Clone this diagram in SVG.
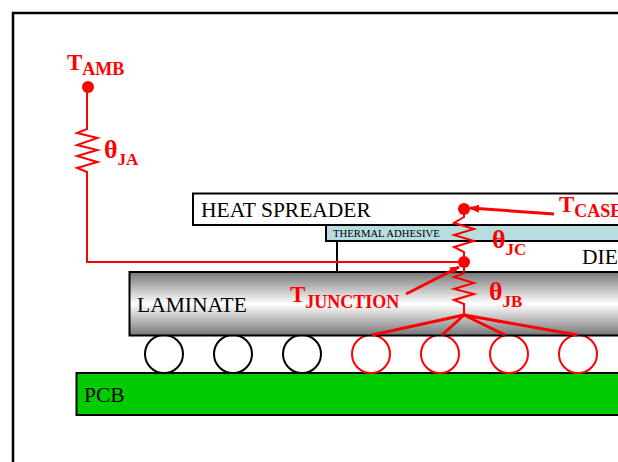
<svg xmlns="http://www.w3.org/2000/svg" width="618" height="462" viewBox="0 0 618 462">
<style>
.box{stroke:#000;stroke-width:2}
.lbl{font-family:"Liberation Serif",serif;fill:#000;font-size:21.5px}
.red{font-family:"Liberation Serif",serif;fill:#f00;font-weight:bold}
.wire{fill:none;stroke:#f00;stroke-width:2}
.thick{fill:none;stroke:#f00;stroke-width:3}
.ball{fill:#fff;stroke:#000;stroke-width:2}
.rball{fill:#fff;stroke:#f00;stroke-width:2}
.dot{fill:#f00}
.big{font-size:23px}
.sub{font-size:18px}
.sub2{font-size:17px}
.th{font-size:26px}
</style>
<defs>
<linearGradient id="lam" x1="0" y1="0" x2="0" y2="1">
<stop offset="0" stop-color="#777"/>
<stop offset="0.5" stop-color="#fff"/>
<stop offset="1" stop-color="#777"/>
</linearGradient>
<marker id="ah" markerWidth="10" markerHeight="8" refX="9" refY="4" orient="auto" markerUnits="userSpaceOnUse"><path d="M0 0L10 4L0 8z" fill="#f00"/></marker>
</defs>
<rect width="618" height="462" fill="#fff"/>
<path id="frame" d="M13 462V13H618" fill="none" stroke="#000" stroke-width="2.5"/>
<g id="pcb"><rect class="box" x="76.500" y="373" width="560" height="42" fill="#0c0"/><text class="lbl" x="84" y="402">PCB</text></g>
<g id="ball1"><circle class="ball" cx="164" cy="354" r="19"/></g>
<g id="ball2"><circle class="ball" cx="233" cy="354" r="19"/></g>
<g id="ball3"><circle class="ball" cx="302" cy="354" r="19"/></g>
<g id="ball4"><circle class="rball" cx="371" cy="354" r="19"/></g>
<g id="ball5"><circle class="rball" cx="440" cy="354" r="19"/></g>
<g id="ball6"><circle class="rball" cx="509" cy="354" r="19"/></g>
<g id="ball7"><circle class="rball" cx="578" cy="354" r="19"/></g>
<g id="laminate"><rect class="box" x="129.500" y="272" width="520" height="63.500" fill="url(#lam)"/><text class="lbl" x="137" y="312">LAMINATE</text></g>
<g id="die"><rect class="box" x="337" y="241" width="320" height="31" fill="#fff"/><text class="lbl" x="582" y="264">DIE</text></g>
<g id="heat-spreader"><rect class="box" x="193" y="193.500" width="460" height="31.500" fill="#fff"/><text class="lbl" x="201" y="217">HEAT SPREADER</text></g>
<g id="thermal-adhesive"><rect class="box" x="326" y="225" width="320" height="16" fill="#b8dde0"/><text x="333" y="237" font-family="Liberation Serif,serif" font-size="10.700" fill="#000">THERMAL ADHESIVE</text></g>
<g id="connectors">
<path class="wire" d="M87 87V129L77 133L97.500 138L77 145L97.500 150L77 156L97.500 162L77 168L87 172V262H464"/>
<path class="wire" d="M464 209V217L454 223L474 229L454 235L474 241L454 247L464 252V262"/>
<path class="wire" d="M464 262V273L454 277L474 283L454 289L474 294L454 300L464 304V315"/>
<path class="thick" d="M464 315L372 335M464 315L442 335M464 315L505 335M464 315L577 335"/>
<path class="thick" d="M554 214L470 208" marker-end="url(#ah)"/>
<path class="thick" d="M406 294L459 267" marker-end="url(#ah)"/>
</g>
<g id="t-amb"><circle class="dot" cx="88" cy="87" r="6"/><text class="red" x="67" y="70"><tspan class="big">T</tspan><tspan class="sub" dy="5">AMB</tspan></text></g>
<g id="theta-ja"><text class="red" x="104" y="158"><tspan class="th">θ</tspan><tspan class="sub2" dy="7">JA</tspan></text></g>
<g id="t-case"><circle class="dot" cx="464" cy="209" r="6"/><text class="red" x="559" y="212"><tspan class="big">T</tspan><tspan class="sub" dy="5">CASE</tspan></text></g>
<g id="theta-jc"><text class="red" x="492" y="248"><tspan class="th">θ</tspan><tspan class="sub2" dy="7">JC</tspan></text></g>
<g id="t-junction"><circle class="dot" cx="464" cy="262" r="6"/><text class="red" x="290" y="302"><tspan class="big">T</tspan><tspan class="sub" dy="6">JUNCTION</tspan></text></g>
<g id="theta-jb"><text class="red" x="489" y="300"><tspan class="th">θ</tspan><tspan class="sub2" dy="7">JB</tspan></text></g>
</svg>
